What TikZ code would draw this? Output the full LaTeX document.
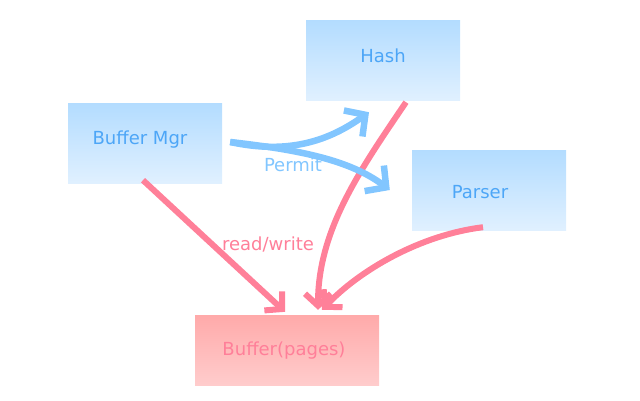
\documentclass[tikz,border=0pt]{standalone}
\usepackage{fontspec}
\setmainfont{DejaVu Sans}
\usetikzlibrary{arrows.meta}
\definecolor{btop}{HTML}{B3DCFF}
\definecolor{bbot}{HTML}{E0F0FF}
\definecolor{ptop}{HTML}{FFAAAA}
\definecolor{pbot}{HTML}{FFCCCC}
\definecolor{btext}{HTML}{4DA6F7}
\definecolor{ptext}{HTML}{FF7F99}
\definecolor{barrow}{HTML}{82C6FF}
\definecolor{parrow}{HTML}{FF8099}
\tikzset{
  bluebox/.style={rectangle, draw=none, top color=btop, bottom color=bbot, minimum width=154pt, minimum height=80pt, inner sep=0pt},
  pinkbox/.style={rectangle, draw=none, top color=ptop, bottom color=pbot, minimum width=184pt, minimum height=70pt, inner sep=0pt},
  btxt/.style={text=btext, font=\fontsize{18}{22}\selectfont, inner sep=0pt},
  ptxt/.style={text=ptext, font=\fontsize{18}{22}\selectfont, inner sep=0pt},
  bluearrow/.style={draw=barrow, line width=6.5pt, -{Straight Barb[length=15pt,width=32pt]}},
  pinkarrow/.style={draw=parrow, line width=6pt, -{Straight Barb[length=12pt,width=26pt]}},
}
\begin{document}
\begin{tikzpicture}[x=1pt,y=-1pt]
\useasboundingbox (0,0) rectangle (640,400);
\node[bluebox] (mgr) at (145,143) {};
\node[bluebox] (hash) at (383,60) {};
\node[bluebox] (parser) at (489,190) {};
\node[pinkbox] (buf) at (287,350) {};
\node[btxt] (mgrt) at (140,140) {Buffer Mgr};
\node[btxt] (hasht) at (383,56) {Hash};
\node[btxt] (parsert) at (480,192) {Parser};
\node[ptxt] (buft) at (284,351) {Buffer(pages)};
% pink connectors
\draw[pinkarrow] ([xshift=-2pt,yshift=3pt]mgr.south) -- ([xshift=-2pt,yshift=3pt]buf.north);
\draw[pinkarrow] ([xshift=23pt,yshift=-2pt]hash.south) .. controls (360,170) and (318,230) .. ([xshift=31pt,yshift=5pt]buf.north);
\draw[pinkarrow] ([xshift=-6pt,yshift=3pt]parser.south) .. controls (420,235) and (360,270) .. ([xshift=35pt,yshift=5pt]buf.north);
% blue connectors
\draw[bluearrow] ([xshift=8pt,yshift=1pt]mgr.east) .. controls (290,155) and (330,140) .. ([xshift=-14pt,yshift=-12pt]hash.south);
\draw[bluearrow] ([xshift=8pt,yshift=1pt]mgr.east) .. controls (300,150) and (350,160) .. ([xshift=-22pt]parser.west);
\node[text=barrow, font=\fontsize{18}{22}\selectfont, inner sep=0pt] (permit) at (293,165) {Permit};
\node[ptxt, anchor=base] (rw) at (268,250) {read/write};
\end{tikzpicture}
\end{document}
